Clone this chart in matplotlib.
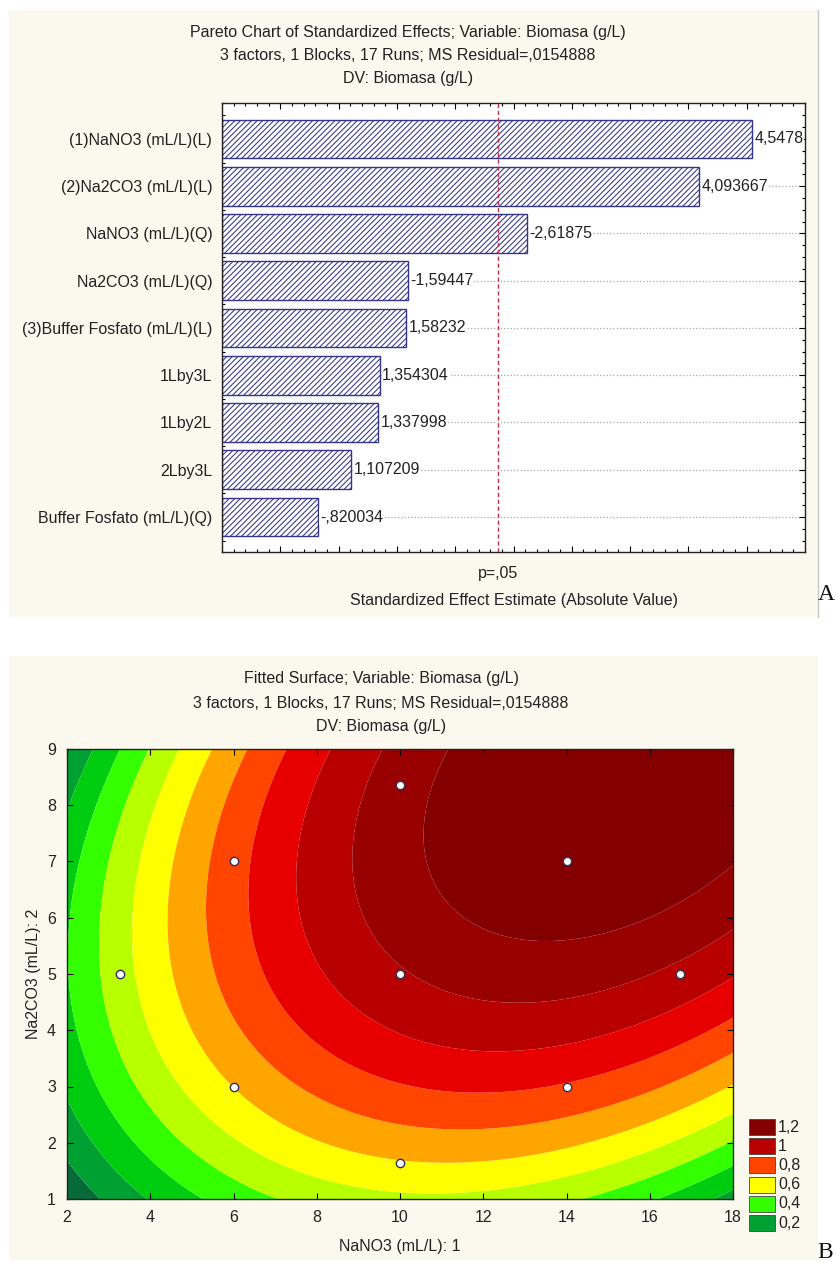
import numpy as np
import matplotlib
matplotlib.use("Agg")
import matplotlib.pyplot as plt
import matplotlib.transforms as mtransforms
from matplotlib.patches import Rectangle
from matplotlib.ticker import MultipleLocator
from matplotlib.lines import Line2D

# ---------------- data ----------------
effect_names = [
    "(1)NaNO3 (mL/L)(L)",
    "(2)Na2CO3 (mL/L)(L)",
    "NaNO3 (mL/L)(Q)",
    "Na2CO3 (mL/L)(Q)",
    "(3)Buffer Fosfato (mL/L)(L)",
    "1Lby3L",
    "1Lby2L",
    "2Lby3L",
    "Buffer Fosfato (mL/L)(Q)",
]
effect_t = [4.5478, 4.093667, -2.61875, -1.59447, 1.58232,
            1.354304, 1.337998, 1.107209, -0.820034]
t_critical = 2.364624

# fitted second-order model in coded units (buffer held at centre)
b0 = 1.09
b_nano3 = 0.1531
b_na2co3 = 0.1378
b_nano3_sq = -0.0971
b_na2co3_sq = -0.0591
b_nano3_na2co3 = 0.0589
nano3_center, nano3_step = 10.0, 4.0
na2co3_center, na2co3_step = 5.0, 2.0

# experimental design points (NaNO3, Na2CO3)
design_nano3 = [6, 6, 14, 14, 10, 3.27, 16.73, 10, 10]
design_na2co3 = [3, 7, 3, 7, 5, 5, 5, 1.64, 8.36]

contour_levels = [0.0, 0.1, 0.2, 0.3, 0.4, 0.5, 0.6, 0.7, 0.8, 0.9, 1.0, 1.1, 1.2, 1.6]
band_colors = ["#004d26", "#066b38", "#00a032", "#00cc10", "#33ff00", "#b8ff00",
               "#ffff00", "#ffa500", "#ff4500", "#e80000", "#b80000", "#990000", "#840000"]
legend_levels = [1.2, 1.0, 0.8, 0.6, 0.4, 0.2]
legend_labels = ["1,2", "1", "0,8", "0,6", "0,4", "0,2"]

# ---------------- figure ----------------
W, H = 836, 1262
plt.rcParams["font.family"] = ["Liberation Sans", "DejaVu Sans"]
plt.rcParams["font.size"] = 11.5
plt.rcParams["hatch.linewidth"] = 0.75
plt.rcParams["hatch.color"] = "#34348c"

fig = plt.figure(figsize=(W / 100, H / 100), dpi=100, facecolor="white")


def fx(px):
    return px / W


def fy(py):
    return 1 - py / H


def ax_rect(left, top, right, bottom):
    return [fx(left), fy(bottom), (right - left) / W, (bottom - top) / H]


cream = "#fbf8ee"
fig.patches.append(Rectangle((fx(9), fy(617)), (818 - 9) / W, (617 - 10) / H,
                             transform=fig.transFigure, facecolor=cream,
                             edgecolor="none", zorder=-10))
fig.lines.append(Line2D([fx(818), fx(818)], [fy(10), fy(617)], transform=fig.transFigure,
                        color="#c8c8c8", lw=1, zorder=-9))
fig.patches.append(Rectangle((fx(9), fy(1260)), (818 - 9) / W, (1260 - 656) / H,
                             transform=fig.transFigure, facecolor=cream,
                             edgecolor="none", zorder=-10))


def stat_fmt(v):
    s = f"{v:.7g}"
    if abs(v) < 1:
        s = s.replace("0.", ".", 1)
    return s.replace(".", ",")


# ---------------- Pareto chart ----------------
ax1 = fig.add_axes(ax_rect(222, 103, 805, 552))
ax1.set_facecolor("white")
ypos = np.arange(len(effect_names))
abs_t = np.abs(effect_t)
ax1.barh(ypos, abs_t, height=0.82, facecolor="white", edgecolor="#34348c",
         hatch="//////", linewidth=1.0, zorder=2)
for y, v, a in zip(ypos, effect_t, abs_t):
    ax1.text(a + 0.02, y, stat_fmt(v), va="center", ha="left", fontsize=11.5,
             color="#222222", zorder=4,
             bbox=dict(facecolor="white", edgecolor="none", pad=0.5))
ax1.axvline(t_critical, color="#c0304a", lw=1.0, linestyle=(0, (3, 2)), zorder=3)
ax1.set_xlim(0, 5)
ax1.set_ylim(8.74, -0.76)
ax1.set_yticks(ypos)
ax1.set_yticklabels(effect_names)
ax1.yaxis.set_minor_locator(MultipleLocator(0.25))
ax1.xaxis.set_major_locator(MultipleLocator(0.5))
ax1.xaxis.set_minor_locator(MultipleLocator(0.1))
ax1.tick_params(axis="x", which="both", direction="in", top=True, bottom=True,
                labelbottom=False)
ax1.tick_params(axis="y", which="both", direction="in", left=True, right=True)
ax1.tick_params(which="major", length=4, width=0.8)
ax1.tick_params(which="minor", length=2.5, width=0.8)
ax1.tick_params(axis="y", which="major", pad=7, labelsize=11.5, labelcolor="#222222")
ax1.grid(axis="y", which="major", linestyle=":", color="#a8a8a8", lw=0.9, zorder=0)
ax1.set_axisbelow(True)
for s in ax1.spines.values():
    s.set_linewidth(1.0)
    s.set_color("#222222")

p_trans = mtransforms.blended_transform_factory(ax1.transData, fig.transFigure)
ax1.text(t_critical, fy(574), "p=,05", transform=p_trans,
         ha="center", va="center", fontsize=11.5, color="#222222")
fig.text(fx(513.5), fy(600), "Standardized Effect Estimate (Absolute Value)",
         ha="center", va="center", fontsize=11.5, color="#222222")

pareto_title = ["Pareto Chart of Standardized Effects; Variable: Biomasa (g/L)",
                "3 factors, 1 Blocks, 17 Runs; MS Residual=,0154888",
                "DV: Biomasa (g/L)"]
for line, py in zip(pareto_title, [33, 56, 79]):
    fig.text(fx(408), fy(py), line, ha="center", va="center", fontsize=11.5, color="#222222")

fig.text(fx(818), fy(600), "A", ha="left", va="baseline", fontsize=17,
         family=["Liberation Serif", "DejaVu Serif"], color="#111111")

# ---------------- fitted surface ----------------
ax2 = fig.add_axes(ax_rect(67, 749, 733, 1199))
n_grid = np.linspace(2, 18, 500)
c_grid = np.linspace(1, 9, 500)
NN, CC = np.meshgrid(n_grid, c_grid)
x1 = (NN - nano3_center) / nano3_step
x2 = (CC - na2co3_center) / na2co3_step
Z = (b0 + b_nano3 * x1 + b_na2co3 * x2 + b_nano3_sq * x1 ** 2
     + b_na2co3_sq * x2 ** 2 + b_nano3_na2co3 * x1 * x2)
ax2.contourf(NN, CC, Z, levels=contour_levels, colors=band_colors, antialiased=True)
ax2.plot(design_nano3, design_na2co3, linestyle="none", marker="o", markersize=6,
         markerfacecolor="white", markeredgecolor="#303060", markeredgewidth=1.0, zorder=5)
ax2.set_xlim(2, 18)
ax2.set_ylim(1, 9)
ax2.xaxis.set_major_locator(MultipleLocator(2))
ax2.yaxis.set_major_locator(MultipleLocator(1))
ax2.tick_params(which="major", direction="in", top=True, right=True, length=4, width=0.8,
                labelsize=11.5, labelcolor="#222222", pad=8)
for s in ax2.spines.values():
    s.set_linewidth(1.0)
    s.set_color("#222222")
ax2.set_xlabel("NaNO3 (mL/L): 1", fontsize=11.5, color="#222222", labelpad=10)
ax2.set_ylabel("Na2CO3 (mL/L): 2", fontsize=11.5, color="#222222", labelpad=4)

surface_title = ["Fitted Surface; Variable: Biomasa (g/L)",
                 "3 factors, 1 Blocks, 17 Runs; MS Residual=,0154888",
                 "DV: Biomasa (g/L)"]
for line, py in zip(surface_title, [678, 703, 727]):
    fig.text(fx(381), fy(py), line, ha="center", va="center", fontsize=11.5, color="#222222")

# colour legend
axl = fig.add_axes(ax_rect(745, 1115, 815, 1235))
axl.set_xlim(745, 815)
axl.set_ylim(1235, 1115)
axl.axis("off")
for i, (lev, lab) in enumerate(zip(legend_levels, legend_labels)):
    color = band_colors[contour_levels.index(lev)]
    yc = 1127 + i * 19.2
    axl.add_patch(Rectangle((749, yc - 8), 26, 16, facecolor=color,
                            edgecolor="#444444", lw=0.6))
    axl.text(778, yc, lab, ha="left", va="center", fontsize=11.5, color="#222222")

fig.text(fx(817), fy(1258), "B", ha="left", va="baseline", fontsize=17,
         family=["Liberation Serif", "DejaVu Serif"], color="#111111")

fig.savefig("out.png", dpi=100, facecolor="white")
